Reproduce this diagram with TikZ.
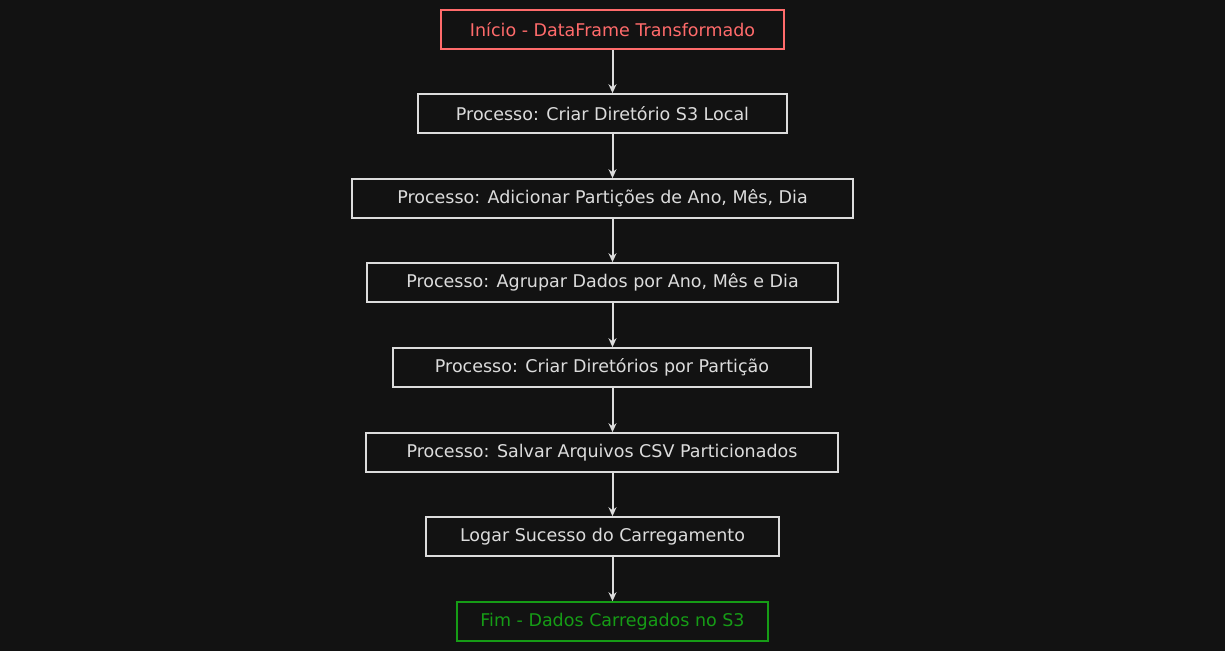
\documentclass[tikz,border=0pt]{standalone}
\usepackage{fontspec}
\setmainfont{DejaVu Sans}
\usetikzlibrary{arrows.meta}
\definecolor{bg}{HTML}{121212}
\definecolor{fg}{HTML}{DCDCDC}
\definecolor{startred}{HTML}{FF6B6B}
\definecolor{endgreen}{HTML}{169C16}
\tikzset{
  box/.style={draw=fg, text=fg, line width=1.6pt, minimum height=39pt, inner sep=0pt, font=\fontsize{17.5}{20}\selectfont},
  startbox/.style={box, draw=startred, text=startred},
  endbox/.style={box, draw=endgreen, text=endgreen},
  arr/.style={draw=fg, line width=2pt, -{Stealth[length=9pt,width=8pt]}}
}
\begin{document}
\begin{tikzpicture}[x=1pt,y=-1pt]
\fill[bg] (0,0) rectangle (1225,651);
\useasboundingbox (0,0) rectangle (1225,651);
\node[startbox, minimum width=343pt] (n1) at (612.5,29.5) {Início - DataFrame Transformado};
\node[box, minimum width=369pt] (n2) at (602.5,113.5) {Processo: Criar Diretório S3 Local};
\node[box, minimum width=501pt] (n3) at (602.5,198.5) {Processo: Adicionar Partições de Ano, Mês, Dia};
\node[box, minimum width=471pt] (n4) at (602.5,282.5) {Processo: Agrupar Dados por Ano, Mês e Dia};
\node[box, minimum width=418pt] (n5) at (602,367.5) {Processo: Criar Diretórios por Partição};
\node[box, minimum width=472pt] (n6) at (602,452.5) {Processo: Salvar Arquivos CSV Particionados};
\node[box, minimum width=353pt] (n7) at (602.5,536.5) {Logar Sucesso do Carregamento};
\node[endbox, minimum width=311pt] (n8) at (612.5,621.5) {Fim - Dados Carregados no S3};
\draw[arr] (n1.south) -- (n2.north -| n1.south);
\draw[arr] (n2.south -| n1.south) -- (n3.north -| n1.south);
\draw[arr] (n3.south -| n1.south) -- (n4.north -| n1.south);
\draw[arr] (n4.south -| n1.south) -- (n5.north -| n1.south);
\draw[arr] (n5.south -| n1.south) -- (n6.north -| n1.south);
\draw[arr] (n6.south -| n1.south) -- (n7.north -| n1.south);
\draw[arr] (n7.south -| n1.south) -- (n8.north);
\end{tikzpicture}
\end{document}
